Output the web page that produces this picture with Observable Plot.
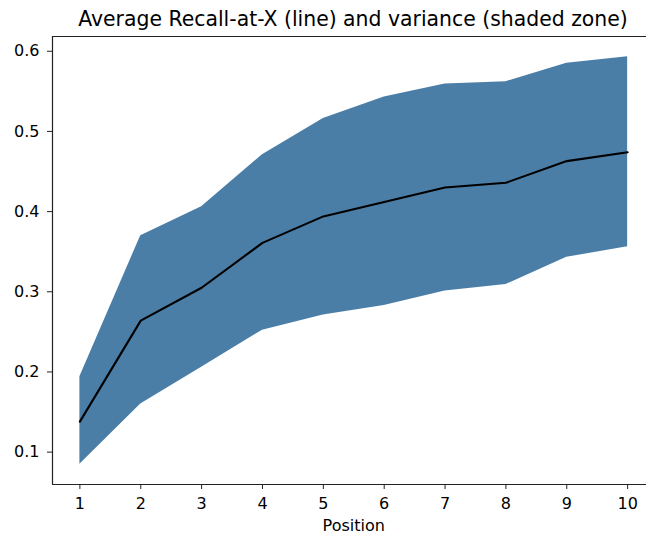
<!DOCTYPE html>
<html><head><meta charset="utf-8">
<script src="https://cdn.jsdelivr.net/npm/d3@7"></script>
<script src="https://cdn.jsdelivr.net/npm/@observablehq/plot@0.6"></script>
<style>
body{margin:0;background:#fff;font-family:"DejaVu Sans",sans-serif;}
#wrap{position:relative;width:646px;height:536px;overflow:hidden;background:#fff;}
#title{position:absolute;left:52px;width:602px;top:3px;text-align:center;font-size:20.4px;color:#000;line-height:32px;white-space:nowrap;z-index:2;}
#chart{position:absolute;left:0;top:28px;z-index:1;}
</style></head>
<body>
<div id="wrap"><div id="title">Average Recall-at-X (line) and variance (shaded zone)</div><div id="chart"></div></div>
<script>
const positions = [1, 2, 3, 4, 5, 6, 7, 8, 9, 10];
const meanRecall = [0.138, 0.264, 0.305, 0.361, 0.394, 0.412, 0.430, 0.436, 0.463, 0.474];
const upperBound = [0.194, 0.370, 0.406, 0.471, 0.516, 0.543, 0.559, 0.562, 0.585, 0.593];
const lowerBound = [0.085, 0.160, 0.206, 0.252, 0.271, 0.283, 0.301, 0.309, 0.343, 0.356];
const yTicks = [0.1, 0.2, 0.3, 0.4, 0.5, 0.6];
const xLabel = "Position";

const data = positions.map((p, i) => ({p, mean: meanRecall[i], lo: lowerBound[i], hi: upperBound[i]}));
const xDom = [0.55, 10.31];
const xFull = [0.55, 10.45];
const yDom = [0.0596, 0.6184];

const chart = Plot.plot({
  width: 646,
  height: 508,
  marginLeft: 52,
  marginRight: 0,
  marginTop: 8,
  marginBottom: 52,
  style: {fontFamily: "DejaVu Sans, sans-serif", fontSize: "16px", color: "#000", background: "transparent", overflow: "visible"},
  x: {domain: xDom},
  y: {domain: yDom},
  marks: [
    Plot.areaY(data, {x: "p", y1: "lo", y2: "hi", fill: "#4b7ea7"}),
    Plot.line(data, {x: "p", y: "mean", stroke: "#000", strokeWidth: 2.1}),
    Plot.axisX({ticks: positions, tickFormat: d3.format("d"), tickSize: 5, tickPadding: 8, fontSize: 16, label: null, stroke: "#222"}),
    Plot.axisY({ticks: yTicks, tickFormat: d3.format(".1f"), tickSize: 5, tickPadding: 8, fontSize: 16, label: null, stroke: "#222"}),
    Plot.text([xLabel], {x: (xFull[0] + xFull[1]) / 2, y: yDom[0], text: d => d, dy: 41, fontSize: 16, textAnchor: "middle", lineAnchor: "middle", fill: "#000"}),
    Plot.ruleX([xDom[0]], {stroke: "#222", strokeWidth: 1.2}),
    Plot.ruleY([yDom[0], yDom[1]], {stroke: "#222", strokeWidth: 1.2})
  ]
});
document.getElementById("chart").appendChild(chart);
</script>
</body></html>
